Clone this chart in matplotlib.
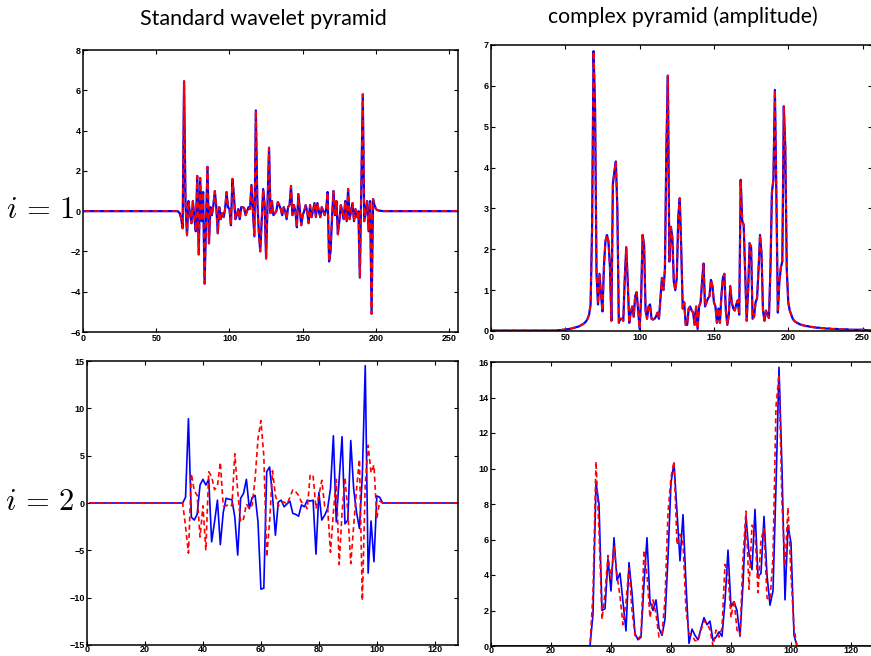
#!/usr/bin/env python3
"""Standard vs complex wavelet pyramid coefficients at two levels."""

import matplotlib
matplotlib.use("Agg")
import matplotlib.pyplot as plt
import numpy as np

plt.rcParams["mathtext.fontset"] = "cm"

# --- level i = 1 (256 samples) ---------------------------------------------
wavelet_1 = [0.0] * 63 + [
    0.0, -0.02, -0.1, -0.35, -0.85, 6.45, 0.3, -1.2, 0.5, -0.1,
    -0.6, 0.5, -0.3, -1.0, 1.75, -2.15, 1.65, -0.5, 0.95, -3.6,
    -0.5, 2.2, -1.6, 0.2, -0.2, 0.3, 1.0, 0.2, -1.1, 0.2,
    -0.4, -0.1, -0.3, 0.1, 0.95, 0.2, 0.1, -0.7, 1.6, 0.8,
    -0.4, -0.2, 0.1, -0.4, 0.2, 0.2, 0.15, -0.2, 0.0, 0.2,
    0.1, 1.3, 0.0, -1.25, 5.0, 0.5, -1.0, -2.0, -0.5, 1.1,
    0.3, -2.35, 0.5, 3.15, -0.1, 0.5, -0.2, -0.1, 0.0, 0.45,
    0.3, 0.1, -0.2, 0.2, 0.0, -0.4, 0.2, 0.3, 1.25, -0.2,
    0.3, 0.0, -0.8, 0.85, 0.1, -0.7, -0.2, 0.0, 0.3, 0.0,
    -0.6, 0.3, -0.3, 0.0, 0.4, -0.3, 0.4, 0.0, -0.3, 0.2,
    0.0, -0.2, 0.1, 0.95, -2.5, -2.0, -0.3, 1.0, -0.2, 0.5,
    -1.15, -0.5, 0.3, 0.0, -0.4, 0.5, -0.5, 1.1, -0.4, 0.0,
    0.4, -0.5, 0.1, -0.3, 0.0, -3.3, 1.2, 5.8, -0.5, 0.0,
    0.5, -1.0, 0.5, -5.1, 0.6, 0.3, 0.1, 0.05, 0.03, 0.02,
    0.01, 0.0,
] + [0.0] * 51

amplitude_1 = [0.01] * 44 + [
    0.02, 0.02, 0.02, 0.03, 0.03, 0.04, 0.04, 0.05, 0.05, 0.06,
    0.07, 0.08, 0.09, 0.10, 0.11, 0.13, 0.15, 0.17, 0.20, 0.24,
    0.30, 0.40, 0.65, 2.5, 6.85, 5.5, 1.4, 0.65, 1.4, 0.9,
    0.48, 1.6, 2.2, 2.35, 2.2, 1.6, 0.25, 3.6, 3.9, 4.15,
    3.0, 0.2, 0.3, 0.3, 0.25, 1.3, 2.05, 1.2, 0.2, 0.45,
    0.6, 0.35, 0.85, 0.95, 0.5, 0.05, 0.8, 2.35, 2.1, 0.5,
    0.3, 0.6, 0.65, 0.3, 0.28, 0.3, 0.35, 0.45, 0.3, 0.8,
    1.3, 1.0, 1.5, 4.5, 6.25, 1.7, 2.55, 2.3, 1.2, 1.0,
    1.3, 2.8, 3.25, 2.0, 0.55, 0.7, 0.15, 0.15, 0.55, 0.6,
    0.5, 0.45, 0.15, 0.6, 0.05, 0.6, 0.7, 1.2, 1.65, 0.6,
    0.7, 0.8, 0.85, 1.25, 1.1, 0.7, 0.6, 0.2, 0.55, 0.2,
    0.85, 1.3, 1.4, 0.5, 0.15, 0.4, 1.1, 0.7, 0.55, 0.5,
    0.65, 0.75, 0.4, 3.7, 2.7, 2.6, 1.4, 0.25, 1.0, 2.15,
    2.05, 0.3, 0.35, 0.7, 0.8, 1.5, 2.35, 1.9, 0.5, 0.25,
    0.5, 0.4, 0.32, 1.5, 3.4, 3.7, 5.9, 3.3, 0.45, 1.2,
    1.55, 1.7, 5.5, 4.5, 1.5, 0.7, 0.5, 0.4, 0.3, 0.25,
    0.22, 0.2, 0.18, 0.16, 0.15, 0.14,
    0.13, 0.12, 0.12, 0.11, 0.10, 0.10, 0.09, 0.09, 0.08, 0.08,
    0.08, 0.07, 0.07, 0.07, 0.06, 0.06, 0.06, 0.06, 0.05, 0.05,
    0.05, 0.05, 0.05, 0.04, 0.04, 0.04, 0.04, 0.04, 0.04, 0.04,
    0.03, 0.03, 0.03, 0.03, 0.03, 0.03, 0.03, 0.03, 0.03, 0.03,
    0.03, 0.02, 0.02, 0.02, 0.02, 0.02,
]

# --- level i = 2 (128 samples) ---------------------------------------------
wavelet_2_blue = [0.0] * 32 + [
    0.0, 0.6, 8.9, -1.5, -1.8, -1.2, 1.9, 2.5, 1.9, 2.5,
    -4.1, -2.0, 0.3, -4.4, -1.0, 0.5, 0.4, 0.35, -1.5, -5.5,
    0.5, 1.0, 2.5, -0.6, 0.6, 0.8, -2.0, -9.1, -9.0, 3.3,
    3.8, 0.8, -3.4, 0.1, 0.3, -0.4, -0.1, 0.2, -1.1, -1.2,
    -1.4, -0.2, -0.4, 0.3, 0.2, 0.3, -5.4, 1.1, -1.8, -1.3,
    -0.6, 1.5, 7.1, -2.0, 2.5, 7.0, -2.2, -1.8, 6.6, 1.5,
    -1.0, -2.7, 3.0, 14.5, -7.4, -1.9, -6.2, 0.75, 0.6, 0.0,
] + [0.0] * 26

wavelet_2_red = [0.0] * 32 + [
    0.0, -2.5, -5.3, 3.1, 1.3, 0.8, -3.6, -0.3, -5.0, 3.3,
    2.8, 1.4, 1.8, 4.3, -0.3, -0.3, -0.1, -0.3, 5.2, 1.2,
    -2.0, -1.7, -0.1, -0.6, -0.2, 2.6, 6.8, 8.7, 5.0, -5.7,
    -2.0, 3.4, 0.8, -0.3, 0.1, 0.1, -0.1, 0.6, 1.4, 1.2,
    0.8, 0.1, -0.1, -0.6, 3.0, 2.9, -0.6, 0.8, 2.4, -0.3,
    -0.4, -5.2, -1.0, 2.5, -6.5, -1.0, 2.7, -1.0, -6.4, -2.5,
    1.5, 4.6, -10.3, 2.0, 6.1, 3.2, 4.0, -1.6, 0.2, 0.0,
] + [0.0] * 26

amplitude_2_blue = [0.0] * 32 + [
    0.0, 1.8, 9.2, 8.0, 2.0, 2.1, 4.9, 3.1, 6.1, 3.7,
    4.1, 2.5, 0.85, 4.7, 3.0, 0.7, 0.35, 0.5, 3.5, 6.1,
    2.5, 2.0, 2.6, 1.0, 0.6, 1.5, 5.0, 9.2, 10.3, 7.5,
    4.8, 7.4, 3.5, 0.15, 0.95, 0.6, 0.35, 1.0, 1.6, 1.2,
    1.4, 0.3, 0.5, 0.8, 0.55, 2.5, 5.4, 2.2, 2.5, 2.0,
    0.55, 3.5, 7.3, 5.2, 4.3, 7.7, 3.9, 4.1, 7.3, 4.0,
    2.3, 3.1, 9.0, 15.7, 10.0, 2.6, 6.8, 5.8, 0.6, 0.0,
] + [0.0] * 26

amplitude_2_red = [0.0] * 32 + [
    0.0, 3.0, 10.4, 6.5, 1.5, 3.0, 5.1, 3.8, 5.6, 4.0,
    2.8, 1.2, 2.5, 4.4, 2.0, 0.6, 0.4, 0.6, 5.4, 4.0,
    1.6, 2.6, 1.8, 0.5, 0.7, 2.6, 7.5, 9.5, 10.4, 5.7,
    6.3, 5.8, 2.0, 0.7, 0.6, 0.3, 0.3, 0.9, 1.4, 1.3,
    0.9, 0.0, 0.9, 0.5, 1.0, 4.6, 4.0, 1.6, 2.6, 0.9,
    0.6, 5.0, 7.6, 3.2, 6.8, 6.5, 3.0, 6.0, 6.6, 2.7,
    2.6, 5.0, 13.5, 15.3, 8.0, 4.5, 7.8, 4.0, 1.0, 0.0,
] + [0.0] * 26

col_titles = ["Standard wavelet pyramid", "complex pyramid (amplitude)"]
row_labels = [r"$i\,=\,1$", r"$i\,=\,2$"]


def style_axes(ax, xmax, xticks, ylim, yticks, xpad=1.5):
    ax.set_xlim(0, xmax)
    ax.set_ylim(*ylim)
    ax.set_xticks(xticks)
    ax.set_yticks(yticks)
    ax.tick_params(direction="in", top=True, right=True, length=3,
                   width=0.8, labelsize=6.5, pad=1.5)
    ax.tick_params(axis="x", pad=xpad)
    for lab in ax.get_xticklabels() + ax.get_yticklabels():
        lab.set_fontweight("bold")
        lab.set_family("Liberation Sans")
    for sp in ax.spines.values():
        sp.set_linewidth(1.1)


fig = plt.figure(figsize=(8.71, 6.56), dpi=100)
W, H = 871.0, 656.0


def add_axes_px(left, top, right, bottom):
    return fig.add_axes([left / W, 1 - bottom / H, (right - left) / W, (bottom - top) / H])


ax_tl = add_axes_px(83, 50, 458, 332)
ax_tr = add_axes_px(491, 45, 871.5, 331)
ax_bl = add_axes_px(87, 361, 458, 645)
ax_br = add_axes_px(491, 362, 875, 646)

n1 = np.arange(1, len(wavelet_1) + 1)
n2 = np.arange(1, len(wavelet_2_blue) + 1)

ax_tl.plot(n1, wavelet_1, color="#0000ff", lw=1.6)
ax_tl.plot(n1, wavelet_1, color="#ff0000", lw=1.4, ls=(0, (3, 2)))
ax_tr.plot(n1, amplitude_1, color="#0000ff", lw=1.6)
ax_tr.plot(n1, amplitude_1, color="#ff0000", lw=1.4, ls=(0, (3, 2)))

ax_bl.plot(n2, wavelet_2_blue, color="#0000ff", lw=1.2)
ax_bl.plot(n2, wavelet_2_red, color="#ff0000", lw=1.2, ls=(0, (3, 2)))
ax_br.plot(n2, amplitude_2_blue, color="#0000ff", lw=1.2)
ax_br.plot(n2, amplitude_2_red, color="#ff0000", lw=1.2, ls=(0, (3, 2)))

style_axes(ax_tl, 256, range(0, 251, 50), (-6, 8), range(-6, 9, 2))
style_axes(ax_tr, 256, range(0, 251, 50), (0, 7), range(0, 8))
style_axes(ax_bl, 128, range(0, 121, 20), (-15, 15), range(-15, 16, 5), xpad=0.3)
style_axes(ax_br, 128, range(0, 121, 20), (0, 16), range(0, 17, 2), xpad=0.3)

fig.text(263 / W, 1 - 19 / H, col_titles[0], ha="center", va="center",
         fontsize=15.5, family="Lato")
fig.text(683 / W, 1 - 17 / H, col_titles[1], ha="center", va="center",
         fontsize=15.3, family="Lato")
fig.text(40 / W, 1 - 210 / H, row_labels[0], ha="center", va="center", fontsize=22)
fig.text(40 / W, 1 - 502 / H, row_labels[1], ha="center", va="center", fontsize=22)

fig.savefig("out.png", dpi=100)
